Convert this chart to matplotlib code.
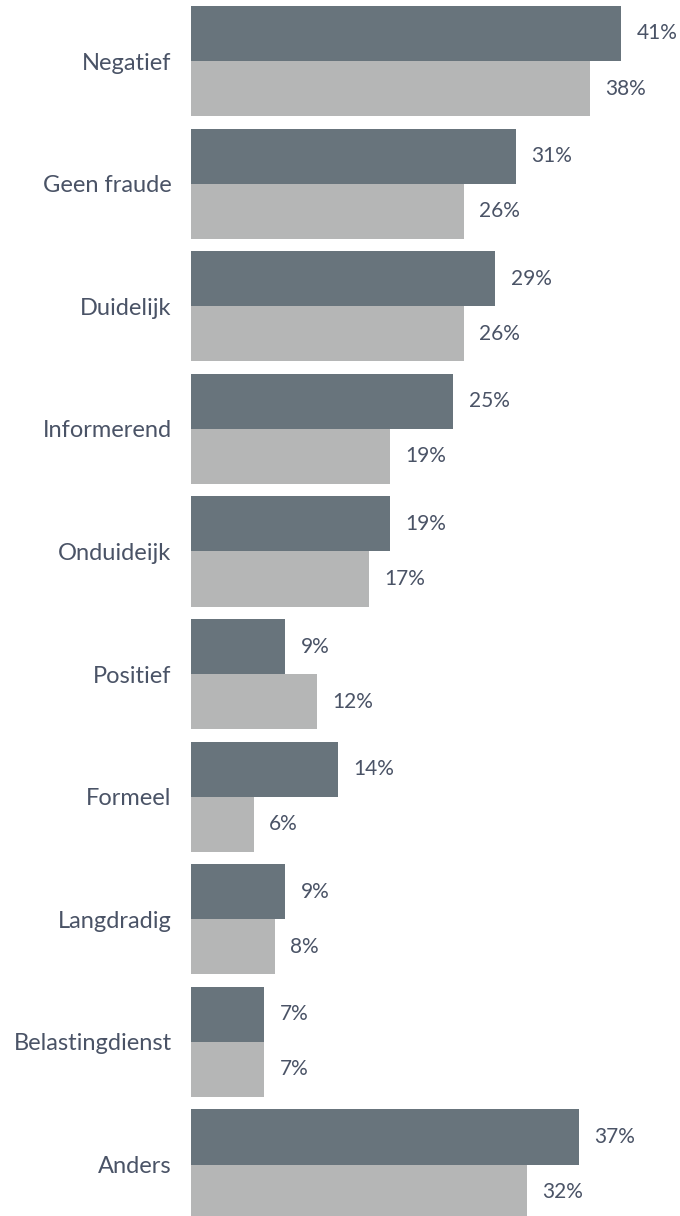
import numpy as np
import matplotlib.pyplot as plt

categories = ['Negatief', 'Geen fraude', 'Duidelijk', 'Informerend', 'Onduideijk',
              'Positief', 'Formeel', 'Langdradig', 'Belastingdienst', 'Anders']
series_a = [41, 31, 29, 25, 19, 9, 14, 9, 7, 37]
series_b = [38, 26, 26, 19, 17, 12, 6, 8, 7, 32]

dark = '#68747c'
light = '#b5b6b6'
txt = '#4a5366'

plt.rcParams['font.family'] = ['Lato', 'DejaVu Sans']

fig = plt.figure(figsize=(6.8, 12.16), dpi=100)
ax = fig.add_axes([191/680, 0, 1 - 191/680, 1])

y = np.arange(len(categories))
h = 0.449
ax.barh(y - h/2, series_a, height=h, color=dark)
ax.barh(y + h/2, series_b, height=h, color=light)

for i in range(len(categories)):
    ax.text(series_a[i] + 1.45, y[i] - h/2, '%d%%' % series_a[i], va='center', ha='left',
            fontsize=15, color=txt)
    ax.text(series_b[i] + 1.45, y[i] + h/2, '%d%%' % series_b[i], va='center', ha='left',
            fontsize=15, color=txt)

ax.set_yticks(y)
ax.set_yticklabels(categories, fontsize=17, color=txt)
ax.tick_params(axis='y', length=0, pad=14)
ax.set_xticks([])
ax.set_xlim(0, 46.6)
ax.set_ylim(9.42, -0.4976)
for s in ax.spines.values():
    s.set_visible(False)

fig.savefig('out.png', dpi=100)
